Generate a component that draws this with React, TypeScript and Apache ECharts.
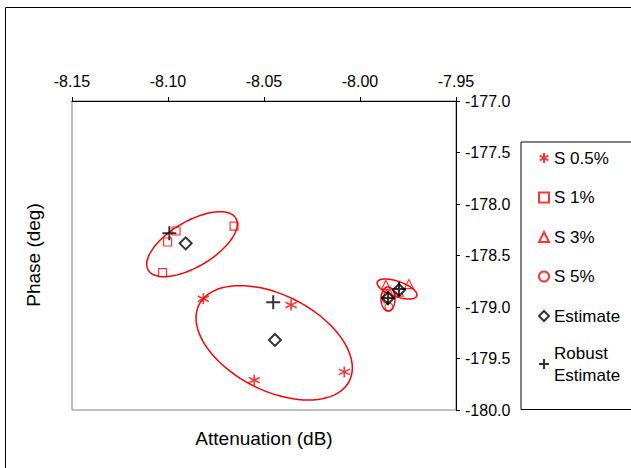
import React, { useEffect, useRef } from "react";
import * as echarts from "echarts";

// Tick ranges
const xTicks = [-8.15, -8.1, -8.05, -8.0, -7.95];
const yTicks = [-180.0, -179.5, -179.0, -178.5, -178.0, -177.5, -177.0];

// Series values [attenuation dB, phase deg]
const s05: number[][] = [
  [-8.0816, -178.92],
  [-8.0359, -178.98],
  [-8.0551, -179.71],
  [-8.0082, -179.63],
];
const s1: number[][] = [
  [-8.0958, -178.262],
  [-8.1002, -178.369],
  [-8.0656, -178.214],
  [-8.1028, -178.667],
];
const s3: number[][] = [
  [-7.9865, -178.786],
  [-7.9745, -178.777],
  [-7.9797, -178.85],
];
const s5: number[][] = [
  [-7.9854, -178.874],
  [-7.9864, -178.922],
  [-7.9849, -179.0],
];
const estimate: number[][] = [
  [-8.0908, -178.382],
  [-8.0443, -179.32],
  [-7.9854, -178.913],
  [-7.9797, -178.835],
];
const robust: number[][] = [
  [-8.0993, -178.284],
  [-8.0452, -178.954],
  [-7.9854, -178.913],
  [-7.9797, -178.825],
];

// Confidence ellipses: [centerX, centerY, axis1 dX, axis1 dY, axis2 dX, axis2 dY] (data units)
const ellipses: number[][] = [
  [-8.0875, -178.39, 0.02281, 0.2524, 0.00604, -0.1893],
  [-8.0447, -179.348, 0.03911, -0.3718, -0.0113, -0.4126],
  [-7.9854, -178.922, 0.0, -0.1165, 0.00365, 0.0],
  [-7.9807, -178.825, 0.01031, -0.067, -0.0013, -0.0699],
];

const FONT = "'Liberation Sans', Arial, sans-serif";
const RED = "#ff0000";

export default function App() {
  const ref = useRef<HTMLDivElement>(null);
  useEffect(() => {
    if (!ref.current) return;
    const chart = echarts.init(ref.current, undefined, { renderer: "svg" });
    const option: any = {
      animation: false,
      backgroundColor: "#ffffff",
      textStyle: { fontFamily: FONT },
      grid: {
        left: 72,
        top: 101,
        right: 175,
        bottom: 58,
        show: true,
        borderColor: "#808080",
        borderWidth: 1,
        backgroundColor: "#ffffff",
      },
      xAxis: {
        type: "value",
        position: "top",
        min: xTicks[0],
        max: xTicks[xTicks.length - 1],
        interval: 0.05,
        axisLine: { show: true, onZero: false, lineStyle: { color: "#000", width: 1 } },
        axisTick: { show: true, inside: false, length: 4, lineStyle: { color: "#000" } },
        splitLine: { show: false },
        axisLabel: {
          color: "#000",
          fontSize: 16,
          fontFamily: FONT,
          margin: 12,
          formatter: (v: number) => v.toFixed(2),
        },
      },
      yAxis: {
        type: "value",
        position: "right",
        min: yTicks[0],
        max: yTicks[yTicks.length - 1],
        interval: 0.5,
        axisLine: { show: true, onZero: false, lineStyle: { color: "#000", width: 1 } },
        axisTick: { show: true, inside: false, length: 4, lineStyle: { color: "#000" } },
        splitLine: { show: false },
        axisLabel: {
          color: "#000",
          fontSize: 16,
          fontFamily: FONT,
          margin: 9,
          formatter: (v: number) => v.toFixed(1),
        },
      },
      legend: {
        orient: "vertical",
        left: 521,
        top: 142,
        padding: [5, 80, 26, 17],
        itemGap: 17.5,
        itemWidth: 10,
        itemHeight: 10,
        borderColor: "#000",
        borderWidth: 1,
        backgroundColor: "#fff",
        textStyle: { color: "#000", fontSize: 17, fontFamily: FONT, lineHeight: 22 },
        data: [
          "S 0.5%",
          "S 1%",
          "S 3%",
          "S 5%",
          "Estimate",
          { name: "Robust Estimate", textStyle: { padding: [0, 0, -22, 0] } },
        ],
        formatter: (n: string) => (n === "Robust Estimate" ? "Robust\nEstimate" : n),
      },
      graphic: [
        {
          type: "rect",
          shape: { x: 5.5, y: 7.5, width: 800, height: 700 },
          style: { fill: "none", stroke: "#000", lineWidth: 1 },
          z: -10,
          silent: true,
        },
        {
          type: "text",
          x: 264,
          y: 438,
          style: {
            text: "Attenuation (dB)",
            fill: "#000",
            font: `19px ${FONT}`,
            textAlign: "center",
            textVerticalAlign: "middle",
          },
        },
        {
          type: "text",
          x: 33,
          y: 255,
          rotation: Math.PI / 2,
          style: {
            text: "Phase (deg)",
            fill: "#000",
            font: `19px ${FONT}`,
            textAlign: "center",
            textVerticalAlign: "middle",
          },
        },
      ],
      series: [
        {
          type: "custom",
          name: "ellipse",
          silent: true,
          z: 1,
          data: ellipses,
          renderItem: (params: any, api: any) => {
            const cx = api.value(0), cy = api.value(1);
            const ux = api.value(2), uy = api.value(3);
            const vx = api.value(4), vy = api.value(5);
            const pts: number[][] = [];
            const N = 90;
            for (let i = 0; i < N; i++) {
              const t = (i / N) * Math.PI * 2;
              const c = Math.cos(t), s = Math.sin(t);
              pts.push(api.coord([cx + ux * c + vx * s, cy + uy * c + vy * s]));
            }
            return {
              type: "polygon",
              shape: { points: pts },
              style: { fill: "none", stroke: RED, lineWidth: 1.5 },
            };
          },
        },
        {
          type: "scatter",
          name: "S 0.5%",
          z: 3,
          data: s05,
          symbol: "path://M5,0L5,10M0.7,2.5L9.3,7.5M0.7,7.5L9.3,2.5",
          symbolSize: 11,
          itemStyle: { color: "rgba(0,0,0,0)", borderColor: RED, borderWidth: 1.6 },
        },
        {
          type: "scatter",
          name: "S 1%",
          z: 3,
          data: s1,
          symbol: "rect",
          symbolSize: 8,
          itemStyle: { color: "rgba(255,255,255,0)", borderColor: RED, borderWidth: 1.2 },
        },
        {
          type: "scatter",
          name: "S 3%",
          z: 3,
          data: s3,
          symbol: "triangle",
          symbolSize: 9,
          itemStyle: { color: "rgba(255,255,255,0)", borderColor: RED, borderWidth: 1.2 },
        },
        {
          type: "scatter",
          name: "S 5%",
          z: 3,
          data: s5,
          symbol: "circle",
          symbolSize: 8,
          itemStyle: { color: "rgba(255,255,255,0)", borderColor: RED, borderWidth: 1.2 },
        },
        {
          type: "scatter",
          name: "Estimate",
          z: 4,
          data: estimate,
          symbol: "diamond",
          symbolSize: [12, 12],
          itemStyle: { color: "#fff", borderColor: "#000", borderWidth: 2 },
        },
        {
          type: "scatter",
          name: "Robust Estimate",
          z: 5,
          data: robust,
          symbol: "path://M5,0L5,10M0,5L10,5",
          symbolSize: 14,
          itemStyle: { color: "rgba(0,0,0,0)", borderColor: "#000", borderWidth: 2 },
        },
      ],
    };
    chart.setOption(option);
    return () => chart.dispose();
  }, []);
  return (
    <div
      ref={ref}
      style={{ position: "absolute", left: 0, top: 0, width: 631, height: 468 }}
    />
  );
}
